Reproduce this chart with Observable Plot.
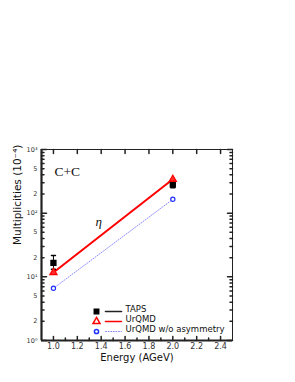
<!DOCTYPE html>
<html><head><meta charset="utf-8">
<script src="https://cdn.jsdelivr.net/npm/d3@7"></script>
<script src="https://cdn.jsdelivr.net/npm/@observablehq/plot@0.6"></script>
<style>body{margin:0;background:#fff} #chart svg{display:block}</style>
</head><body><div id="chart"></div>
<script>
const energies = [1.0, 2.0];
const tapsValues = [16.6, 281];
const tapsLow = [13.2, 250];
const tapsHigh = [21.6, 318];
const urqmdValues = [11.7, 341];
const urqmdNoAsymValues = [6.6, 165];

const xTickValues = [1.0, 1.2, 1.4, 1.6, 1.8, 2.0, 2.2, 2.4];
const xTickLabels = ["1.0", "1.2", "1.4", "1.6", "1.8", "2.0", "2.2", "2.4"];
const xMinorTicks = [1.1, 1.3, 1.5, 1.7, 1.9, 2.1, 2.3];
const yMajorTicks = [1, 10, 100, 1000];
const yLabelValues = [1, 2, 5, 10, 20, 50, 100, 200, 500, 1000];
const yTickLabels = ["10⁰", "2", "5", "10¹", "2", "5", "10²", "2", "5", "10³"];
const yMinorTicks = [2,3,4,5,6,7,8,9,20,30,40,50,60,70,80,90,200,300,400,500,600,700,800,900];
const legendLabels = ["TAPS", "UrQMD", "UrQMD w/o asymmetry"];
const annotationText = ["C+C", "η"];
const etaPosition = {x: 1.38, y: 72};

const taps = energies.map((e, i) => ({e, v: tapsValues[i], lo: tapsLow[i], hi: tapsHigh[i]}));
const urqmd = energies.map((e, i) => ({e, v: urqmdValues[i]}));
const urqmdNo = energies.map((e, i) => ({e, v: urqmdNoAsymValues[i]}));
const xTicks = xTickValues.map((v, i) => ({v, t: xTickLabels[i]}));
const yLabels = yLabelValues.map((v, i) => ({v, t: yTickLabels[i]}));

const line = {draw(context, l) { context.moveTo(0, 0); context.lineTo(0, -l); }};
const font = "DejaVu Sans";

const legendStyles = [
  {symbol: "square", fill: "black", stroke: "black", r: 2.5, lineStroke: "#222", lineWidth: 1.6, dash: null},
  {symbol: "triangle", fill: "white", stroke: "red", r: 2.6, lineStroke: "red", lineWidth: 1.6, dash: null},
  {symbol: "circle", fill: "white", stroke: "#2030ff", r: 2.1, lineStroke: "#8a8aff", lineWidth: 1, dash: "1,1.6"}
];
const legendMarks = legendLabels.flatMap((label, i) => {
  const s = legendStyles[i];
  const dy = -29 + i * 10;
  return [
    Plot.dot([label], {frameAnchor: "bottom-left", dx: 55, dy, symbol: s.symbol, r: s.r, fill: s.fill, stroke: s.stroke, strokeWidth: 1.5}),
    Plot.vector([label], {frameAnchor: "bottom-left", dx: 64, dy, rotate: 90, length: 16, anchor: "start", shape: line, stroke: s.lineStroke, strokeWidth: s.lineWidth, strokeDasharray: s.dash}),
    Plot.text([label], {frameAnchor: "bottom-left", dx: 84, dy, textAnchor: "start", fontSize: 8.5, fontFamily: font, fill: "#111"})
  ];
});

const chart = Plot.plot({
  width: 295,
  height: 382,
  marginLeft: 41,
  marginRight: 63,
  marginTop: 149,
  marginBottom: 42,
  style: {fontFamily: font, background: "white"},
  x: {domain: [0.9, 2.5], axis: null},
  y: {type: "log", domain: [1, 1000], axis: null},
  marks: [
    Plot.line(urqmdNo, {x: "e", y: "v", stroke: "#8a8aff", strokeWidth: 1, strokeDasharray: "1,1.6"}),
    Plot.line(urqmd, {x: "e", y: "v", stroke: "red", strokeWidth: 2}),
    Plot.ruleX(taps, {x: "e", y1: "lo", y2: "hi", stroke: "black", strokeWidth: 1}),
    Plot.vector(taps, {x: "e", y: "hi", rotate: 90, length: 4, anchor: "middle", shape: line, stroke: "black"}),
    Plot.vector(taps, {x: "e", y: "lo", rotate: 90, length: 4, anchor: "middle", shape: line, stroke: "black"}),
    Plot.dot(taps, {x: "e", y: "v", symbol: "square", r: 2.7, fill: "black", stroke: "black"}),
    Plot.dot(urqmdNo, {x: "e", y: "v", symbol: "circle", r: 2.1, fill: "white", stroke: "#2030ff", strokeWidth: 1.2}),
    Plot.dot(urqmd, {x: "e", y: "v", symbol: "triangle", r: 2.6, fill: "#ff3030", stroke: "red", strokeWidth: 1.3}),
    Plot.frame({stroke: "#222", strokeWidth: 1}),
    Plot.ruleX([0.9], {stroke: "#222", strokeWidth: 2.2}),
    Plot.ruleY([1], {stroke: "#222", strokeWidth: 2.2}),
    Plot.vector(yMajorTicks, {y: d => d, frameAnchor: "left", rotate: 90, length: 5, anchor: "start", shape: line, stroke: "#222"}),
    Plot.vector(yMinorTicks, {y: d => d, frameAnchor: "left", rotate: 90, length: 2.5, anchor: "start", shape: line, stroke: "#222"}),
    Plot.vector(yMajorTicks, {y: d => d, frameAnchor: "right", rotate: -90, length: 5, anchor: "start", shape: line, stroke: "#222"}),
    Plot.vector(yMinorTicks, {y: d => d, frameAnchor: "right", rotate: -90, length: 2.5, anchor: "start", shape: line, stroke: "#222"}),
    Plot.vector(xTickValues, {x: d => d, frameAnchor: "bottom", rotate: 0, length: 4, anchor: "start", shape: line, stroke: "#222"}),
    Plot.vector(xMinorTicks, {x: d => d, frameAnchor: "bottom", rotate: 0, length: 2.5, anchor: "start", shape: line, stroke: "#222"}),
    Plot.vector(xTickValues, {x: d => d, frameAnchor: "top", rotate: 180, length: 4, anchor: "start", shape: line, stroke: "#222"}),
    Plot.text(yLabels, {y: "v", text: "t", frameAnchor: "left", dx: -4, textAnchor: "end", fontSize: 6.5, fill: "#333"}),
    Plot.text(xTicks, {x: "v", text: "t", frameAnchor: "bottom", dy: 8, fontSize: 8, fill: "#333"}),
    Plot.text(["Energy (AGeV)"], {frameAnchor: "bottom", dy: 20, fontSize: 10, fill: "#111"}),
    Plot.text(["Multiplicities (10⁻⁴)"], {frameAnchor: "left", dx: -24, rotate: -90, fontSize: 10.5, fill: "#111"}),
    Plot.text([annotationText[0]], {frameAnchor: "top-left", dx: 13, dy: 17, textAnchor: "start", fontSize: 13.5, fontFamily: "Liberation Serif", fill: "#111"}),
    Plot.text([etaPosition], {x: "x", y: "y", text: () => annotationText[1], fontSize: 13, fontFamily: "Liberation Serif", fontStyle: "italic", fill: "#111"}),
    ...legendMarks
  ]
});
document.getElementById("chart").append(chart);
</script>
</body></html>
